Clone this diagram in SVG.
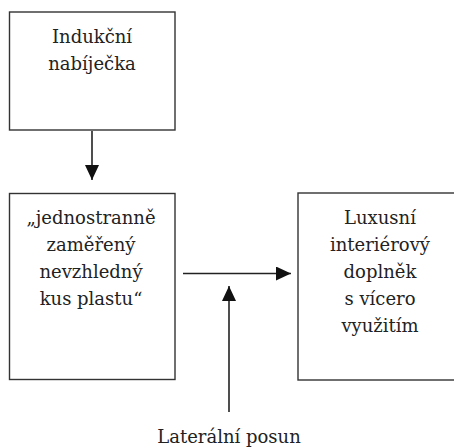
<svg xmlns="http://www.w3.org/2000/svg" width="454" height="447" viewBox="0 0 454 447">
<defs>
<style>
.box{fill:#fff;stroke:#333;stroke-width:1.4}
.t{font-family:"DejaVu Serif",serif;font-size:18px;fill:#222;text-anchor:middle}
.c{stroke:#222;stroke-width:1.6;fill:none}
</style>
<marker id="ah" markerWidth="16" markerHeight="14" refX="15" refY="7" orient="auto" markerUnits="userSpaceOnUse">
<path d="M0,0 L15,7 L0,14 Z" fill="#111"/>
</marker>
</defs>
<rect width="454" height="447" fill="#fff"/>
<g id="node-induction">
<rect class="box" x="9.5" y="12" width="165.5" height="118"/>
<text class="t" x="92" y="43">Indukční</text>
<text class="t" x="92" y="70">nabíječka</text>
</g>
<g id="node-plastic">
<rect class="box" x="9.5" y="193.5" width="165.5" height="186"/>
<text class="t" x="91" y="224">„jednostranně</text>
<text class="t" x="91" y="251">zaměřený</text>
<text class="t" x="91" y="278">nevzhledný</text>
<text class="t" x="91" y="305">kus plastu“</text>
</g>
<g id="node-luxury">
<rect class="box" x="298" y="193" width="166" height="187"/>
<text class="t" x="380" y="224">Luxusní</text>
<text class="t" x="380" y="251">interiérový</text>
<text class="t" x="380" y="278">doplněk</text>
<text class="t" x="380" y="305">s vícero</text>
<text class="t" x="380" y="332">využitím</text>
</g>
<g id="label-lateral">
<text class="t" x="229" y="443">Laterální posun</text>
</g>
<g id="connectors">
<line class="c" x1="92" y1="131" x2="92" y2="180" marker-end="url(#ah)"/>
<line class="c" x1="183" y1="273.5" x2="291" y2="273.5" marker-end="url(#ah)"/>
<line class="c" x1="229" y1="412" x2="229" y2="286" marker-end="url(#ah)"/>
</g>
</svg>
